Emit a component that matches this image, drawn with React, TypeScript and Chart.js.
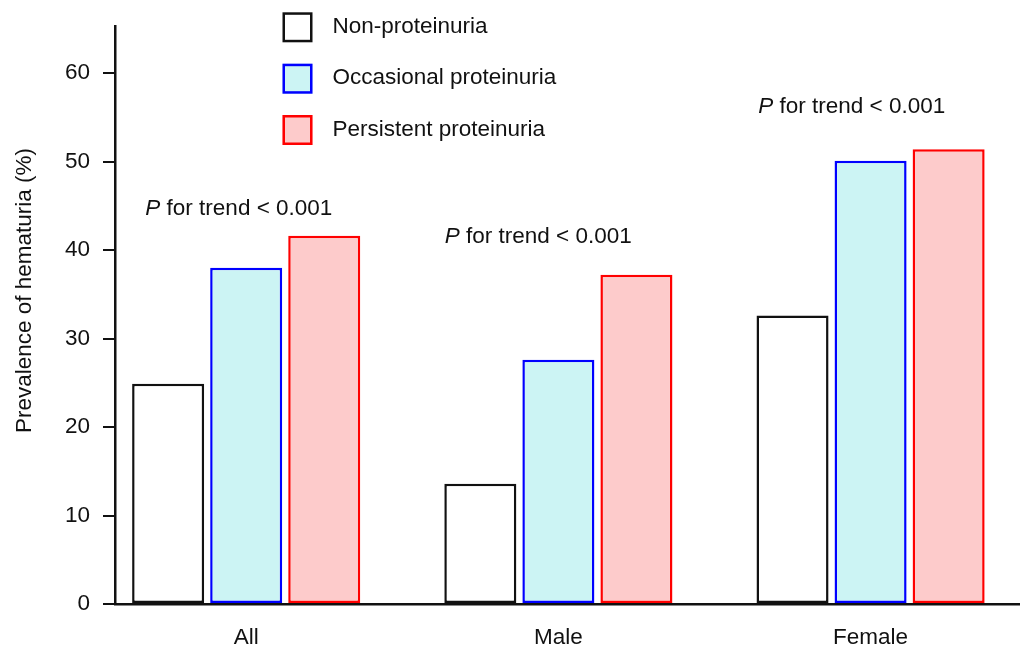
import React, { useEffect, useRef } from "react";
import { Chart, registerables } from "chart.js";

Chart.register(...registerables);

// ---- data ----
const categories = ["All", "Male", "Female"];
const seriesLabels = ["Non-proteinuria", "Occasional proteinuria", "Persistent proteinuria"];
const nonProteinuria = [24.9, 13.6, 32.6];
const occasionalProteinuria = [38.0, 27.6, 50.1];
const persistentProteinuria = [41.6, 37.2, 51.4];
const yTickValues = [0, 10, 20, 30, 40, 50, 60];
const yAxisTitle = "Prevalence of hematuria (%)";
const trendP = "P";
const trendRest = " for trend < 0.001";
// annotation anchors in data units (x: category index offset, y: baseline value)
const trendAnchors = [
  { x: -0.323, y: 44.0 },
  { x: 0.636, y: 40.8 },
  { x: 1.64, y: 55.5 },
];

// ---- styles ----
const FONT = "'Liberation Sans', Arial, Helvetica, sans-serif";
const FS = 22.5;
const fills = ["#ffffff", "#ccf4f4", "#fdcbcb"];
const borders = ["#111111", "#0000ff", "#ff0000"];

const overlayPlugin = {
  id: "overlay",
  afterDraw(chart: any) {
    const ctx = chart.ctx as CanvasRenderingContext2D;
    const xs = chart.scales.x;
    const ys = chart.scales.y;
    ctx.save();
    // y-axis title
    ctx.fillStyle = "#111";
    ctx.font = `${FS}px ${FONT}`;
    ctx.textAlign = "center";
    ctx.textBaseline = "alphabetic";
    ctx.save();
    ctx.translate(31, 290.5);
    ctx.rotate(-Math.PI / 2);
    ctx.fillText(yAxisTitle, 0, 0);
    ctx.restore();

    // legend
    const tops = [12.3, 63.7, 115];
    chart.data.datasets.forEach((ds: any, i: number) => {
      const x = 282.5;
      const y = tops[i];
      ctx.fillStyle = ds.backgroundColor;
      ctx.fillRect(x, y, 30, 30);
      ctx.strokeStyle = ds.borderColor;
      ctx.lineWidth = 2.5;
      ctx.strokeRect(x + 1.25, y + 1.25, 27.5, 27.5);
      ctx.fillStyle = "#111";
      ctx.textAlign = "left";
      ctx.textBaseline = "alphabetic";
      ctx.font = `${FS}px ${FONT}`;
      ctx.fillText(ds.label, 332.5, y + 20.5);
    });

    // trend annotations
    trendAnchors.forEach((a) => {
      const px = xs.getPixelForValue(a.x);
      const py = ys.getPixelForValue(a.y);
      ctx.textAlign = "left";
      ctx.textBaseline = "alphabetic";
      ctx.fillStyle = "#111";
      ctx.font = `italic ${FS}px ${FONT}`;
      ctx.fillText(trendP, px, py);
      const w = ctx.measureText(trendP).width;
      ctx.font = `${FS}px ${FONT}`;
      ctx.fillText(trendRest, px + w, py);
    });
    ctx.restore();
  },
};

export default function App() {
  const ref = useRef<HTMLCanvasElement | null>(null);
  useEffect(() => {
    if (!ref.current) return;
    const seriesValues = [nonProteinuria, occasionalProteinuria, persistentProteinuria];
    const chart = new Chart(ref.current, {
      type: "bar",
      data: {
        datasets: seriesValues.map((vals, i) => ({
          label: seriesLabels[i],
          data: vals.map((v, j) => ({ x: j, y: v })),
          backgroundColor: fills[i],
          borderColor: borders[i],
          borderWidth: 2.5,
          borderSkipped: false,
          categoryPercentage: 0.75,
          barPercentage: 0.923,
        })),
      },
      options: {
        responsive: false,
        animation: false,
        devicePixelRatio: 1,
        layout: { padding: { left: 0, top: 25, right: 3, bottom: 0 } },
        plugins: { legend: { display: false }, tooltip: { enabled: false } },
        scales: {
          x: {
            type: "linear",
            offset: false,
            min: -0.4202,
            max: 2.4754,
            afterBuildTicks: (s: any) => {
              s.ticks = categories.map((_, i) => ({ value: i }));
            },
            afterFit: (s: any) => {
              s.height = 47;
            },
            grid: { display: true, drawOnChartArea: false, drawTicks: false, offset: false },
            border: { display: true, color: "#111", width: 2.5 },
            ticks: {
              padding: 20.5,
              color: "#111",
              font: { family: FONT, size: FS },
              maxRotation: 0,
              autoSkip: false,
              callback: (v: any) => categories[Math.round(Number(v))] ?? "",
            },
          },
          y: {
            min: 0,
            max: 65.26,
            afterBuildTicks: (s: any) => {
              s.ticks = yTickValues.map((v) => ({ value: v }));
            },
            afterFit: (s: any) => {
              s.width = 115;
            },
            grid: {
              display: true,
              drawOnChartArea: false,
              drawTicks: true,
              tickLength: 12,
              color: "#111",
              lineWidth: 2,
            },
            border: { display: true, color: "#111", width: 2.5 },
            ticks: {
              padding: 13,
              color: "#111",
              font: { family: FONT, size: FS },
              callback: (v: any) => String(v),
            },
          },
        },
      },
      plugins: [overlayPlugin],
    } as any);
    return () => chart.destroy();
  }, []);
  return (
    <div style={{ position: "fixed", left: 0, top: 0, width: 1022, height: 651, background: "#fff" }}>
      <canvas ref={ref} width={1022} height={651} style={{ display: "block" }} />
    </div>
  );
}
